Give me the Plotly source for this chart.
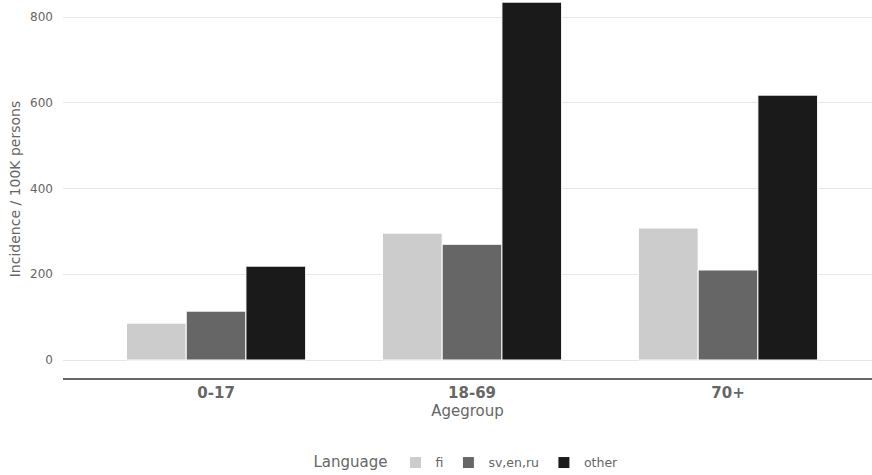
import plotly.graph_objects as go

agegroups = ["0-17", "18-69", "70+"]
languages = ["fi", "sv,en,ru", "other"]
values_fi = [86, 296, 308]
values_sv = [114, 270, 210]
values_other = [219, 835, 618]
colors = ["#cccccc", "#666666", "#1a1a1a"]

series = [values_fi, values_sv, values_other]

fig = go.Figure()
for lang, vals, col in zip(languages, series, colors):
    fig.add_trace(go.Bar(
        x=agegroups, y=vals, name=lang,
        marker=dict(color=col, line=dict(color="white", width=1)),
    ))

fig.update_layout(
    width=872, height=475,
    barmode="group", bargap=0.3, bargroupgap=0.0,
    plot_bgcolor="white", paper_bgcolor="white",
    font=dict(family="DejaVu Sans", color="#666666", size=12),
    margin=dict(l=63, r=0, t=0, b=97, autoexpand=False),
    xaxis=dict(
        title=dict(text="Agegroup", font=dict(size=15, color="#666666"), standoff=2),
        tickfont=dict(size=15, color="#666666", weight="bold"),
        showline=True, linecolor="#666666", linewidth=2,
        showgrid=False, ticks="", range=[-0.598, 2.5625], automargin=False,
    ),
    yaxis=dict(
        title=dict(text="Incidence / 100K persons", font=dict(size=14, color="#666666"), standoff=6),
        tickfont=dict(size=12, color="#666666"),
        range=[-42, 840], tickvals=[0, 200, 400, 600, 800],
        showgrid=True, gridcolor="#e6e6e6", gridwidth=1,
        zeroline=False, ticks="", automargin=False, ticklabelstandoff=9,
    ),
    legend=dict(
        orientation="h", x=0.5, xanchor="center", y=-0.185, yanchor="top",
        itemwidth=30,
        title=dict(text="Language", font=dict(size=15, color="#666666")),
        font=dict(size=12.5, color="#666666"),
    ),
)

fig.write_html("out.html", post_script="document.body.style.margin='0px';",
               config={"displayModeBar": False})
